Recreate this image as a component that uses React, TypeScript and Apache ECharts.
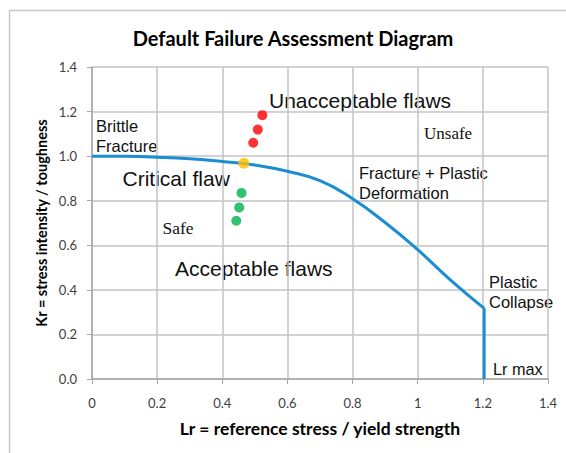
import React, { useEffect, useRef } from "react";
import * as echarts from "echarts";

const curveLr = [0, 0.1, 0.2, 0.3, 0.4, 0.5, 0.6, 0.7, 0.8, 0.9, 1.0, 1.1, 1.204];
const curveKr = [1.0, 0.999, 0.995, 0.988, 0.976, 0.96, 0.932, 0.89, 0.809, 0.702, 0.58, 0.445, 0.317];
const lrMaxLr = [1.204, 1.204];
const lrMaxKr = [0.317, 0];

const redLr = [0.523, 0.509, 0.495];
const redKr = [1.184, 1.119, 1.06];
const orangeLr = [0.466];
const orangeKr = [0.968];
const greenLr = [0.459, 0.452, 0.443];
const greenKr = [0.835, 0.77, 0.71];

const xTicks = [0, 0.2, 0.4, 0.6, 0.8, 1, 1.2, 1.4];
const yTicks = [0, 0.2, 0.4, 0.6, 0.8, 1.0, 1.2, 1.4];

const zip = (a: number[], b: number[]) => a.map((v, i) => [v, b[i]]);

const ARIAL = "'Liberation Sans', Arial, sans-serif";
const TIMES = "'Liberation Serif', 'Times New Roman', serif";
const CAL = "Lato, 'Open Sans', sans-serif";
const INK = "#111111";

export default function App() {
  const ref = useRef<HTMLDivElement>(null);
  useEffect(() => {
    if (!ref.current) return;
    const chart = echarts.init(ref.current, undefined, { renderer: "svg" });
    const gridColor = "#c3c3c3";
    const txt = (x: number, y: number, text: string, size: number, family = ARIAL, va = "middle") => ({
      type: "text",
      x,
      y,
      silent: true,
      style: {
        text,
        font: `${size}px ${family}`,
        fill: INK,
        textAlign: "left",
        textVerticalAlign: va,
        lineHeight: 20,
      },
    });
    chart.setOption({
      animation: false,
      backgroundColor: "#ffffff",
      grid: { left: 92, right: 18, top: 67, bottom: 74 },
      xAxis: {
        type: "value",
        min: xTicks[0],
        max: xTicks[xTicks.length - 1],
        interval: 0.2,
        axisLine: { show: true, lineStyle: { color: "#a6a6a6", width: 1.5 } },
        axisTick: { show: true, length: 5, lineStyle: { color: "#a6a6a6" } },
        splitLine: { show: true, lineStyle: { color: gridColor, width: 1.5 } },
        axisLabel: {
          margin: 17,
          color: "#404040",
          fontSize: 13,
          fontFamily: CAL,
          formatter: (v: number) => String(Math.round(v * 10) / 10),
        },
      },
      yAxis: {
        type: "value",
        min: yTicks[0],
        max: yTicks[yTicks.length - 1],
        interval: 0.2,
        axisLine: { show: true, lineStyle: { color: "#a6a6a6", width: 1.5 } },
        axisTick: { show: true, length: 5, lineStyle: { color: "#a6a6a6" } },
        splitLine: { show: true, lineStyle: { color: gridColor, width: 1.5 } },
        axisLabel: {
          margin: 15,
          color: "#404040",
          fontSize: 13,
          fontFamily: CAL,
          formatter: (v: number) => v.toFixed(1),
        },
      },
      series: [
        {
          type: "line",
          data: zip(curveLr, curveKr),
          smooth: 0.5,
          symbol: "none",
          lineStyle: { color: "#1b8dd3", width: 3 },
          z: 3,
        },
        {
          type: "line",
          data: zip(lrMaxLr, lrMaxKr),
          symbol: "none",
          lineStyle: { color: "#1b8dd3", width: 3 },
          z: 3,
        },
        {
          type: "scatter",
          data: zip(redLr, redKr),
          symbolSize: 10,
          itemStyle: { color: "#ff0000" },
          z: 5,
        },
        {
          type: "scatter",
          data: zip(orangeLr, orangeKr),
          symbolSize: 11,
          itemStyle: { color: "#ffc000" },
          z: 5,
        },
        {
          type: "scatter",
          data: zip(greenLr, greenKr),
          symbolSize: 10,
          itemStyle: { color: "#00b050" },
          z: 5,
        },
      ],
      graphic: [
        {
          type: "rect",
          silent: true,
          shape: { x: 9.5, y: 10.5, width: 700, height: 600 },
          style: { fill: "none", stroke: "#c8c8c8", lineWidth: 1.5 },
          z: -10,
        },
        {
          type: "text",
          x: 293,
          y: 38,
          silent: true,
          style: {
            text: "Default Failure Assessment Diagram",
            font: `bold 20px ${CAL}`,
            fill: "#000000",
            textAlign: "center",
            textVerticalAlign: "middle",
          },
        },
        {
          type: "text",
          x: 41,
          y: 223,
          rotation: Math.PI / 2,
          silent: true,
          style: {
            text: "Kr = stress intensity / toughness",
            font: `bold 14.5px ${CAL}`,
            fill: "#000000",
            textAlign: "center",
            textVerticalAlign: "middle",
          },
        },
        {
          type: "text",
          x: 320,
          y: 428,
          silent: true,
          style: {
            text: "Lr = reference stress / yield strength",
            font: `bold 17.5px ${CAL}`,
            fill: "#000000",
            textAlign: "center",
            textVerticalAlign: "middle",
          },
        },
        txt(269, 100, "Unacceptable flaws", 21),
        txt(96, 116, "Brittle\nFracture", 16.5, ARIAL, "top"),
        txt(424, 133, "Unsafe", 17, TIMES),
        txt(122.5, 178, "Critical flaw", 21),
        txt(359, 163, "Fracture + Plastic\nDeformation", 16.5, ARIAL, "top"),
        txt(162.5, 228, "Safe", 17.5, TIMES),
        txt(175, 268, "Acceptable flaws", 21),
        txt(489, 272, "Plastic\nCollapse", 16.5, ARIAL, "top"),
        txt(493, 369, "Lr max", 16.3),
      ],
    });
    return () => chart.dispose();
  }, []);
  return (
    <div
      ref={ref}
      style={{ position: "absolute", left: 0, top: 0, width: 566, height: 453 }}
    />
  );
}
